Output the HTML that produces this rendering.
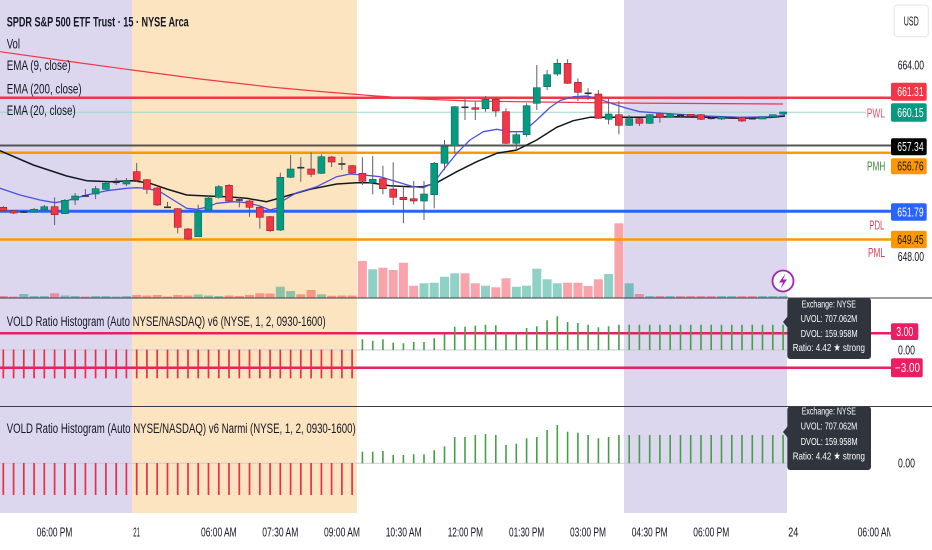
<!DOCTYPE html>
<html><head><meta charset="utf-8"><style>
html,body{margin:0;padding:0;background:#fff;width:932px;height:550px;overflow:hidden}
svg{display:block}
text{font-family:"Liberation Sans","DejaVu Sans",sans-serif;fill:#131722}
.w{stroke:#5d606b;stroke-width:1}
.g{fill:#089981;stroke:#0a6b5a;stroke-width:.6}
.r{fill:#f23645;stroke:#9a1f2a;stroke-width:.6}
.d{stroke:#2a2e39;stroke-width:1.6}
.vg{fill:#089981;fill-opacity:.45}
.vr{fill:#f23645;fill-opacity:.45}
.hr{stroke:#ea2e48;stroke-width:1.7}
.hg{stroke:#43a047;stroke-width:1.6}
.tt{fill:#fff;font-size:10.5px}
.ax{font-size:12.5px}
</style></head><body>
<svg width="932" height="550" viewBox="0 0 932 550" xmlns="http://www.w3.org/2000/svg">
<defs><clipPath id="xc"><rect x="0" y="513" width="890.5" height="37"/></clipPath></defs>
<rect x="0" y="0" width="132" height="513" fill="#dcd6ef"/>
<rect x="132" y="0" width="225" height="513" fill="#fde4c0"/>
<rect x="624" y="0" width="163" height="513" fill="#dcd6ef"/>

<line x1="0" x2="787" y1="350" y2="350" stroke="#c9cbd1" stroke-width="1"/>
<line x1="0" x2="787" y1="463.3" y2="463.3" stroke="#c9cbd1" stroke-width="1"/>

<g>
<rect class="vr" x="-1.2" y="296" width="9" height="1.5"/>
<rect class="vr" x="9.1" y="296.5" width="9" height="1"/>
<rect class="vg" x="19.3" y="294" width="9" height="3.5"/>
<rect class="vg" x="29.6" y="296" width="9" height="1.5"/>
<rect class="vg" x="39.8" y="296" width="9" height="1.5"/>
<rect class="vr" x="50.1" y="293.3" width="9" height="4.2"/>
<rect class="vg" x="60.4" y="295.5" width="9" height="2"/>
<rect class="vg" x="70.6" y="296" width="9" height="1.5"/>
<rect class="vr" x="80.9" y="296.5" width="9" height="1"/>
<rect class="vg" x="91.1" y="296" width="9" height="1.5"/>
<rect class="vg" x="101.4" y="296" width="9" height="1.5"/>
<rect class="vg" x="111.7" y="296.5" width="9" height="1"/>
<rect class="vg" x="121.9" y="296" width="9" height="1.5"/>
<rect class="vr" x="132.2" y="295" width="9" height="2.5"/>
<rect class="vr" x="142.4" y="295.5" width="9" height="2"/>
<rect class="vr" x="152.7" y="295" width="9" height="2.5"/>
<rect class="vr" x="163" y="296.5" width="9" height="1"/>
<rect class="vr" x="173.2" y="295" width="9" height="2.5"/>
<rect class="vr" x="183.5" y="295.5" width="9" height="2"/>
<rect class="vg" x="193.7" y="294.5" width="9" height="3"/>
<rect class="vg" x="204" y="295.5" width="9" height="2"/>
<rect class="vg" x="214.3" y="296" width="9" height="1.5"/>
<rect class="vr" x="224.5" y="295.5" width="9" height="2"/>
<rect class="vr" x="234.8" y="296" width="9" height="1.5"/>
<rect class="vr" x="245" y="295" width="9" height="2.5"/>
<rect class="vr" x="255.3" y="293.3" width="9" height="4.2"/>
<rect class="vr" x="265.6" y="293.5" width="9" height="4"/>
<rect class="vg" x="275.8" y="286.7" width="9" height="10.8"/>
<rect class="vg" x="286.1" y="291" width="9" height="6.5"/>
<rect class="vr" x="296.3" y="294.3" width="9" height="3.2"/>
<rect class="vr" x="306.6" y="290" width="9" height="7.5"/>
<rect class="vg" x="316.9" y="294.3" width="9" height="3.2"/>
<rect class="vr" x="327.1" y="295.7" width="9" height="1.8"/>
<rect class="vr" x="337.4" y="295.5" width="9" height="2"/>
<rect class="vr" x="347.6" y="295.5" width="9" height="2"/>
<rect class="vr" x="357.9" y="261" width="9" height="36.5"/>
<rect class="vg" x="368.2" y="269.3" width="9" height="28.2"/>
<rect class="vr" x="378.4" y="267.7" width="9" height="29.8"/>
<rect class="vr" x="388.7" y="270" width="9" height="27.5"/>
<rect class="vr" x="398.9" y="262.7" width="9" height="34.8"/>
<rect class="vr" x="409.2" y="285.7" width="9" height="11.8"/>
<rect class="vg" x="419.5" y="283.3" width="9" height="14.2"/>
<rect class="vg" x="429.7" y="282.7" width="9" height="14.8"/>
<rect class="vg" x="440" y="276.7" width="9" height="20.8"/>
<rect class="vg" x="450.2" y="273.3" width="9" height="24.2"/>
<rect class="vr" x="460.5" y="273.3" width="9" height="24.2"/>
<rect class="vr" x="470.8" y="283.3" width="9" height="14.2"/>
<rect class="vg" x="481" y="285.7" width="9" height="11.8"/>
<rect class="vr" x="491.3" y="287.3" width="9" height="10.2"/>
<rect class="vr" x="501.5" y="278.3" width="9" height="19.2"/>
<rect class="vg" x="511.8" y="286.7" width="9" height="10.8"/>
<rect class="vg" x="522.1" y="285.7" width="9" height="11.8"/>
<rect class="vg" x="532.3" y="268.7" width="9" height="28.8"/>
<rect class="vg" x="542.6" y="279.3" width="9" height="18.2"/>
<rect class="vg" x="552.8" y="283.3" width="9" height="14.2"/>
<rect class="vr" x="563.1" y="282.7" width="9" height="14.8"/>
<rect class="vr" x="573.4" y="282.7" width="9" height="14.8"/>
<rect class="vr" x="583.6" y="286" width="9" height="11.5"/>
<rect class="vr" x="593.9" y="279.3" width="9" height="18.2"/>
<rect class="vg" x="604.1" y="274" width="9" height="23.5"/>
<rect class="vr" x="614.4" y="223.3" width="9" height="74.2"/>
<rect class="vg" x="624.7" y="283.3" width="9" height="14.2"/>
<rect class="vr" x="634.9" y="294" width="9" height="3.5"/>
<rect class="vg" x="645.2" y="296" width="9" height="1.5"/>
<rect class="vr" x="655.4" y="296" width="9" height="1.5"/>
<rect class="vg" x="665.7" y="296" width="9" height="1.5"/>
<rect class="vr" x="676" y="296" width="9" height="1.5"/>
<rect class="vr" x="686.2" y="296" width="9" height="1.5"/>
<rect class="vr" x="696.5" y="296" width="9" height="1.5"/>
<rect class="vr" x="706.7" y="296" width="9" height="1.5"/>
<rect class="vg" x="717" y="296" width="9" height="1.5"/>
<rect class="vg" x="727.3" y="296" width="9" height="1.5"/>
<rect class="vr" x="737.5" y="296" width="9" height="1.5"/>
<rect class="vr" x="747.8" y="296" width="9" height="1.5"/>
<rect class="vg" x="758" y="296" width="9" height="1.5"/>
<rect class="vg" x="768.3" y="296" width="9" height="1.5"/>
<rect class="vg" x="778.6" y="296" width="9" height="1.5"/>
</g>

<line x1="0" x2="866" y1="112.3" y2="112.3" stroke="#9fd6cb" stroke-width="1"/>
<line x1="0" x2="891" y1="145.5" y2="145.5" stroke="#555" stroke-width="2"/>
<line x1="0" x2="891" y1="152.8" y2="152.8" stroke="#ff9800" stroke-width="2.5"/>
<line x1="0" x2="891" y1="211.3" y2="211.3" stroke="#2962ff" stroke-width="3"/>
<line x1="0" x2="891" y1="239.5" y2="239.5" stroke="#ff9800" stroke-width="2.5"/>
<line x1="0" x2="891" y1="97.7" y2="97.7" stroke="#f23645" stroke-width="2.5"/>

<polyline fill="none" stroke="#f23645" stroke-width="1.2" points="0,51.7 66,61 132,70 200,79 270,87 320,91.5 370,95.5 420,99 470,101 540,102 620,103 700,103.5 783,104"/>
<polyline fill="none" stroke="#131722" stroke-width="1.5" stroke-linejoin="round" points="0,150.7 33.3,165 66.7,176 86.7,180.7 110,181.7 133.3,180.7 150,183.3 166.7,189 186.7,195 206.7,196 226.7,196.7 246.7,198.3 266.7,201.7 276,199 290,195 310,189.3 336.7,184 356.7,182.7 370,182.7 390,185.7 410,186.7 423.3,186.7 436.7,182.7 456.7,171.7 476.7,161.7 496.7,153.3 516.7,150 536.7,140 556.7,127.3 573.3,120.7 590,117.3 606.7,117.3 640,117.3 673.3,116.7 706.7,117.3 740,118.3 773.3,117.3 785,116"/>
<polyline fill="none" stroke="#5050e0" stroke-width="1.3" stroke-linejoin="round" points="0,188.3 20,195 40,200 55,202.7 66.7,200.7 86.7,195 106.7,190.7 126.7,188.3 136.7,187.7 146.7,188.3 160,191.7 173.3,200 186.7,208.3 196.7,209.3 206.7,207.3 216.7,203.3 233.3,201.7 246.7,202.7 260,206 270,210 276.7,208.3 283.3,200.5 296.7,192.7 316.7,186.7 336.7,176.7 350,174 363.3,175 380,176.7 396.7,181.7 413.3,186.7 423.3,187.7 433.3,183.3 443.3,170 456.7,153.3 470,140 483.3,131.7 496.7,129.3 510,131.7 523.3,131.7 536.7,120 550,107.5 560,100.5 573.3,96.7 586.7,96 596.7,98.3 613.3,104 626.7,108.3 640,111.7 673.3,114 706.7,116 740,117.3 773.3,116.7 785,115"/>

<g>
<line class="w" x1="3.3" x2="3.3" y1="206" y2="212"/><rect class="r" x="-0.2" y="207.3" width="7" height="3.4"/>
<line class="w" x1="13.6" x2="13.6" y1="210" y2="214"/><rect class="r" x="10.1" y="210.7" width="7" height="2.3"/>
<line class="w" x1="23.8" x2="23.8" y1="211" y2="213"/><line class="d" x1="20.3" x2="27.3" y1="212" y2="212"/>
<line class="w" x1="34.1" x2="34.1" y1="208" y2="213"/><rect class="g" x="30.6" y="209.3" width="7" height="2.7"/>
<line class="w" x1="44.3" x2="44.3" y1="205" y2="211"/><rect class="g" x="40.8" y="206.7" width="7" height="3.3"/>
<line class="w" x1="54.6" x2="54.6" y1="197.3" y2="225"/><rect class="r" x="51.1" y="206.7" width="7" height="8"/>
<line class="w" x1="64.9" x2="64.9" y1="199" y2="214"/><rect class="g" x="61.4" y="200.3" width="7" height="13.4"/>
<line class="w" x1="75.1" x2="75.1" y1="193" y2="205"/><rect class="g" x="71.6" y="196" width="7" height="4"/>
<line class="w" x1="85.4" x2="85.4" y1="189" y2="197"/><line class="d" x1="81.9" x2="88.9" y1="196" y2="196"/>
<line class="w" x1="95.6" x2="95.6" y1="186" y2="199"/><rect class="g" x="92.1" y="188.7" width="7" height="5.3"/>
<line class="w" x1="105.9" x2="105.9" y1="182" y2="190"/><rect class="g" x="102.4" y="183.3" width="7" height="6"/>
<line class="w" x1="116.2" x2="116.2" y1="178" y2="185"/><line class="d" x1="112.7" x2="119.7" y1="182.3" y2="182.3"/>
<line class="w" x1="126.4" x2="126.4" y1="178" y2="186"/><rect class="g" x="122.9" y="181" width="7" height="3"/>
<line class="w" x1="136.7" x2="136.7" y1="163" y2="182"/><rect class="r" x="133.2" y="171.7" width="7" height="8.6"/>
<line class="w" x1="146.9" x2="146.9" y1="179" y2="194"/><rect class="r" x="143.4" y="179.7" width="7" height="9.6"/>
<line class="w" x1="157.2" x2="157.2" y1="187" y2="206"/><rect class="r" x="153.7" y="188" width="7" height="17"/>
<line class="w" x1="167.5" x2="167.5" y1="202" y2="208"/><line class="d" x1="164" x2="171" y1="207.3" y2="207.3"/>
<line class="w" x1="177.7" x2="177.7" y1="208" y2="233.3"/><rect class="r" x="174.2" y="208.7" width="7" height="18.6"/>
<line class="w" x1="188" x2="188" y1="228" y2="240"/><rect class="r" x="184.5" y="229" width="7" height="10"/>
<line class="w" x1="198.2" x2="198.2" y1="204.7" y2="237"/><rect class="g" x="194.7" y="212" width="7" height="24.7"/>
<line class="w" x1="208.5" x2="208.5" y1="195" y2="212"/><rect class="g" x="205" y="198" width="7" height="12"/>
<line class="w" x1="218.8" x2="218.8" y1="185" y2="198.7"/><rect class="g" x="215.3" y="186.7" width="7" height="10.6"/>
<line class="w" x1="229" x2="229" y1="184" y2="202"/><rect class="r" x="225.5" y="185.3" width="7" height="15.7"/>
<line class="w" x1="239.3" x2="239.3" y1="196.7" y2="207.3"/><line class="d" x1="235.8" x2="242.8" y1="200" y2="200"/>
<line class="w" x1="249.5" x2="249.5" y1="200" y2="216.7"/><rect class="r" x="246" y="201" width="7" height="6.3"/>
<line class="w" x1="259.8" x2="259.8" y1="206" y2="228.7"/><rect class="r" x="256.3" y="207.3" width="7" height="10"/>
<line class="w" x1="270.1" x2="270.1" y1="216" y2="232"/><rect class="r" x="266.6" y="216.7" width="7" height="14"/>
<line class="w" x1="280.3" x2="280.3" y1="172.7" y2="231"/><rect class="g" x="276.8" y="177.3" width="7" height="52.7"/>
<line class="w" x1="290.6" x2="290.6" y1="155" y2="178"/><rect class="g" x="287.1" y="169" width="7" height="8.3"/>
<line class="w" x1="300.8" x2="300.8" y1="157.3" y2="181.7"/><line class="d" x1="297.3" x2="304.3" y1="167.7" y2="167.7"/>
<line class="w" x1="311.1" x2="311.1" y1="152.3" y2="177"/><rect class="r" x="307.6" y="169" width="7" height="5.3"/>
<line class="w" x1="321.4" x2="321.4" y1="154.3" y2="174"/><rect class="g" x="317.9" y="156.7" width="7" height="16.6"/>
<line class="w" x1="331.6" x2="331.6" y1="156" y2="167"/><rect class="r" x="328.1" y="157" width="7" height="5"/>
<line class="w" x1="341.9" x2="341.9" y1="157" y2="170"/><line class="d" x1="338.4" x2="345.4" y1="164" y2="164"/>
<line class="w" x1="352.1" x2="352.1" y1="165" y2="174"/><rect class="r" x="348.6" y="165.7" width="7" height="7.3"/>
<line class="w" x1="362.4" x2="362.4" y1="157.3" y2="185"/><rect class="r" x="358.9" y="173.3" width="7" height="8"/>
<line class="w" x1="372.7" x2="372.7" y1="156" y2="194.3"/><rect class="g" x="369.2" y="179.3" width="7" height="3.4"/>
<line class="w" x1="382.9" x2="382.9" y1="165.7" y2="194.3"/><rect class="r" x="379.4" y="178.7" width="7" height="10"/>
<line class="w" x1="393.2" x2="393.2" y1="162.3" y2="205"/><rect class="r" x="389.7" y="189" width="7" height="8.3"/>
<line class="w" x1="403.4" x2="403.4" y1="186.7" y2="223.3"/><rect class="r" x="399.9" y="197.3" width="7" height="2.4"/>
<line class="w" x1="413.7" x2="413.7" y1="181" y2="204.3"/><rect class="r" x="410.2" y="198.7" width="7" height="2.3"/>
<line class="w" x1="424" x2="424" y1="181" y2="220"/><rect class="g" x="420.5" y="194" width="7" height="7"/>
<line class="w" x1="434.2" x2="434.2" y1="162" y2="208.3"/><rect class="g" x="430.7" y="163.3" width="7" height="31.4"/>
<line class="w" x1="444.5" x2="444.5" y1="140" y2="170"/><rect class="g" x="441" y="146.7" width="7" height="16.6"/>
<line class="w" x1="454.7" x2="454.7" y1="106" y2="153.3"/><rect class="g" x="451.2" y="106.7" width="7" height="39.3"/>
<line class="w" x1="465" x2="465" y1="98.7" y2="120"/><line class="d" x1="461.5" x2="468.5" y1="107.3" y2="107.3"/>
<line class="w" x1="475.3" x2="475.3" y1="101.7" y2="120"/><rect class="r" x="471.8" y="107.7" width="7" height="1.6"/>
<line class="w" x1="485.5" x2="485.5" y1="96" y2="111.7"/><rect class="g" x="482" y="99.3" width="7" height="9.4"/>
<line class="w" x1="495.8" x2="495.8" y1="96.7" y2="116.7"/><rect class="r" x="492.3" y="99.3" width="7" height="11.7"/>
<line class="w" x1="506" x2="506" y1="108.3" y2="144"/><rect class="r" x="502.5" y="111.7" width="7" height="31.6"/>
<line class="w" x1="516.3" x2="516.3" y1="132.7" y2="150"/><rect class="g" x="512.8" y="134.7" width="7" height="8.6"/>
<line class="w" x1="526.6" x2="526.6" y1="103.3" y2="136.7"/><rect class="g" x="523.1" y="105.7" width="7" height="29"/>
<line class="w" x1="536.8" x2="536.8" y1="65" y2="110"/><rect class="g" x="533.3" y="87.7" width="7" height="15.6"/>
<line class="w" x1="547.1" x2="547.1" y1="70" y2="90"/><rect class="g" x="543.6" y="74.7" width="7" height="12"/>
<line class="w" x1="557.3" x2="557.3" y1="59" y2="76"/><rect class="g" x="553.8" y="63.3" width="7" height="10.7"/>
<line class="w" x1="567.6" x2="567.6" y1="59.3" y2="84"/><rect class="r" x="564.1" y="63.3" width="7" height="20"/>
<line class="w" x1="577.9" x2="577.9" y1="78.3" y2="101"/><rect class="r" x="574.4" y="82.3" width="7" height="10"/>
<line class="w" x1="588.1" x2="588.1" y1="88.3" y2="100"/><line class="d" x1="584.6" x2="591.6" y1="93.3" y2="93.3"/>
<line class="w" x1="598.4" x2="598.4" y1="90" y2="119"/><rect class="r" x="594.9" y="94" width="7" height="24.3"/>
<line class="w" x1="608.6" x2="608.6" y1="98.3" y2="124.3"/><rect class="g" x="605.1" y="114" width="7" height="5.3"/>
<line class="w" x1="618.9" x2="618.9" y1="101" y2="134.3"/><rect class="r" x="615.4" y="114.7" width="7" height="10.6"/>
<line class="w" x1="629.2" x2="629.2" y1="115" y2="126"/><rect class="g" x="625.7" y="118.7" width="7" height="6.6"/>
<line class="w" x1="639.4" x2="639.4" y1="118" y2="126"/><rect class="r" x="635.9" y="118.7" width="7" height="4.6"/>
<line class="w" x1="649.7" x2="649.7" y1="114" y2="124"/><rect class="g" x="646.2" y="114.7" width="7" height="8.6"/>
<line class="w" x1="659.9" x2="659.9" y1="113" y2="122.7"/><rect class="r" x="656.4" y="114" width="7" height="3"/>
<line class="w" x1="670.2" x2="670.2" y1="113" y2="118"/><rect class="g" x="666.7" y="114" width="7" height="3"/>
<line class="w" x1="680.5" x2="680.5" y1="114" y2="117"/><line class="d" x1="677" x2="684" y1="115.3" y2="115.3"/>
<line class="w" x1="690.7" x2="690.7" y1="114" y2="117"/><rect class="r" x="687.2" y="114.3" width="7" height="2"/>
<line class="w" x1="701" x2="701" y1="114" y2="120"/><rect class="r" x="697.5" y="114.7" width="7" height="4.6"/>
<line class="w" x1="711.2" x2="711.2" y1="117" y2="119.5"/><line class="d" x1="707.7" x2="714.7" y1="118.3" y2="118.3"/>
<line class="w" x1="721.5" x2="721.5" y1="116" y2="120"/><rect class="g" x="718" y="116.7" width="7" height="2.3"/>
<line class="d" x1="728.3" x2="735.3" y1="118" y2="118"/>
<line class="w" x1="742" x2="742" y1="117" y2="122"/><rect class="r" x="738.5" y="117.3" width="7" height="3.7"/>
<line class="d" x1="748.8" x2="755.8" y1="118.7" y2="118.7"/>
<rect class="g" x="759" y="116.7" width="7" height="2.3"/>
<rect class="g" x="769.3" y="114.7" width="7" height="2.3"/>
<rect class="g" x="779.6" y="112" width="7" height="2"/>
</g>

<text x="6.7" y="26.6" font-size="14" font-weight="bold" textLength="182" lengthAdjust="spacingAndGlyphs">SPDR S&amp;P 500 ETF Trust · 15 · NYSE Arca</text>
<text x="6.7" y="48.3" font-size="14" textLength="13.3" lengthAdjust="spacingAndGlyphs">Vol</text>
<text x="6.7" y="70" font-size="14" textLength="64" lengthAdjust="spacingAndGlyphs">EMA (9, close)</text>
<text x="6.7" y="93.3" font-size="14" textLength="75" lengthAdjust="spacingAndGlyphs">EMA (200, close)</text>
<text x="6.7" y="115" font-size="14" textLength="69" lengthAdjust="spacingAndGlyphs">EMA (20, close)</text>

<text x="866.7" y="117.5" font-size="12.5" style="fill:#e8556a" textLength="18.3" lengthAdjust="spacingAndGlyphs">PWL</text>
<text x="867" y="170.5" font-size="12.5" style="fill:#3d8b40" textLength="18.3" lengthAdjust="spacingAndGlyphs">PMH</text>
<text x="869.3" y="229.5" font-size="12.5" style="fill:#e8405a" textLength="15" lengthAdjust="spacingAndGlyphs">PDL</text>
<text x="868" y="257.2" font-size="12.5" style="fill:#e8405a" textLength="17" lengthAdjust="spacingAndGlyphs">PML</text>

<circle cx="783" cy="281" r="10.5" fill="#fff" stroke="#9c27b0" stroke-width="1.8"/>
<polygon points="785.5,273.5 779,282.5 783,282.5 780.5,289 787,279.5 783,279.5" fill="#9c27b0"/>

<rect x="894.3" y="5" width="34" height="31.7" rx="3" fill="#fff" stroke="#e3e5ea"/>
<text x="903.8" y="25.5" font-size="12.5" textLength="15" lengthAdjust="spacingAndGlyphs">USD</text>
<text class="ax" x="897.7" y="69.4" textLength="26.3" lengthAdjust="spacingAndGlyphs">664.00</text>
<rect x="891" y="82.7" width="35.7" height="18" rx="2" fill="#f23645"/>
<text class="ax" x="897.3" y="96.1" style="fill:#fff" textLength="26.3" lengthAdjust="spacingAndGlyphs">661.31</text>
<rect x="891" y="103.3" width="35.7" height="18.4" rx="2" fill="#089981"/>
<text class="ax" x="897.3" y="116.9" style="fill:#fff" textLength="26.3" lengthAdjust="spacingAndGlyphs">660.15</text>
<rect x="891" y="138.3" width="35.7" height="17" rx="2" fill="#000"/>
<text class="ax" x="897.3" y="151.2" style="fill:#fff" textLength="26.3" lengthAdjust="spacingAndGlyphs">657.34</text>
<rect x="891" y="158.3" width="35.7" height="16" rx="2" fill="#ff9800"/>
<text class="ax" x="897.3" y="170.5" textLength="26.3" lengthAdjust="spacingAndGlyphs">656.76</text>
<rect x="891" y="203.3" width="35.7" height="17.4" rx="2" fill="#2962ff"/>
<text class="ax" x="897.3" y="216.4" style="fill:#fff" textLength="26.3" lengthAdjust="spacingAndGlyphs">651.79</text>
<rect x="891" y="230.7" width="35.7" height="17.6" rx="2" fill="#ff9800"/>
<text class="ax" x="897.3" y="243.9" textLength="26.3" lengthAdjust="spacingAndGlyphs">649.45</text>
<text class="ax" x="897.7" y="261.1" textLength="26.3" lengthAdjust="spacingAndGlyphs">648.00</text>

<line x1="0" x2="891" y1="333.3" y2="333.3" stroke="#e91e63" stroke-width="2.5"/>
<line x1="0" x2="891" y1="367.7" y2="367.7" stroke="#e91e63" stroke-width="2.5"/>
<g class="hr">
<line x1="3.3" x2="3.3" y1="349.5" y2="378.3"/><line x1="13.6" x2="13.6" y1="349.5" y2="378.3"/><line x1="23.8" x2="23.8" y1="349.5" y2="378.3"/><line x1="34.1" x2="34.1" y1="349.5" y2="378.3"/><line x1="44.3" x2="44.3" y1="349.5" y2="378.3"/><line x1="54.6" x2="54.6" y1="349.5" y2="378.3"/><line x1="64.9" x2="64.9" y1="349.5" y2="378.3"/><line x1="75.1" x2="75.1" y1="349.5" y2="378.3"/><line x1="85.4" x2="85.4" y1="349.5" y2="378.3"/><line x1="95.6" x2="95.6" y1="349.5" y2="378.3"/><line x1="105.9" x2="105.9" y1="349.5" y2="378.3"/><line x1="116.2" x2="116.2" y1="349.5" y2="378.3"/><line x1="126.4" x2="126.4" y1="349.5" y2="378.3"/><line x1="136.7" x2="136.7" y1="349.5" y2="378.3"/><line x1="146.9" x2="146.9" y1="349.5" y2="378.3"/><line x1="157.2" x2="157.2" y1="349.5" y2="378.3"/><line x1="167.5" x2="167.5" y1="349.5" y2="378.3"/><line x1="177.7" x2="177.7" y1="349.5" y2="378.3"/><line x1="188" x2="188" y1="349.5" y2="378.3"/><line x1="198.2" x2="198.2" y1="349.5" y2="378.3"/><line x1="208.5" x2="208.5" y1="349.5" y2="378.3"/><line x1="218.8" x2="218.8" y1="349.5" y2="378.3"/><line x1="229" x2="229" y1="349.5" y2="378.3"/><line x1="239.3" x2="239.3" y1="349.5" y2="378.3"/><line x1="249.5" x2="249.5" y1="349.5" y2="378.3"/><line x1="259.8" x2="259.8" y1="349.5" y2="378.3"/><line x1="270.1" x2="270.1" y1="349.5" y2="378.3"/><line x1="280.3" x2="280.3" y1="349.5" y2="378.3"/><line x1="290.6" x2="290.6" y1="349.5" y2="378.3"/><line x1="300.8" x2="300.8" y1="349.5" y2="378.3"/><line x1="311.1" x2="311.1" y1="349.5" y2="378.3"/><line x1="321.4" x2="321.4" y1="349.5" y2="378.3"/><line x1="331.6" x2="331.6" y1="349.5" y2="378.3"/><line x1="341.9" x2="341.9" y1="349.5" y2="378.3"/><line x1="352.1" x2="352.1" y1="349.5" y2="378.3"/>
</g>
<g class="hg">
<line x1="362.4" x2="362.4" y1="350" y2="339.3"/><line x1="372.7" x2="372.7" y1="350" y2="340.7"/><line x1="382.9" x2="382.9" y1="350" y2="339.3"/><line x1="393.2" x2="393.2" y1="350" y2="342.7"/><line x1="403.4" x2="403.4" y1="350" y2="343.3"/><line x1="413.7" x2="413.7" y1="350" y2="342"/><line x1="424" x2="424" y1="350" y2="342"/><line x1="434.2" x2="434.2" y1="350" y2="338.3"/><line x1="444.5" x2="444.5" y1="350" y2="334.3"/><line x1="454.7" x2="454.7" y1="350" y2="326.7"/><line x1="465" x2="465" y1="350" y2="326.7"/><line x1="475.3" x2="475.3" y1="350" y2="325.7"/><line x1="485.5" x2="485.5" y1="350" y2="324.7"/><line x1="495.8" x2="495.8" y1="350" y2="325.3"/><line x1="506" x2="506" y1="350" y2="333.3"/><line x1="516.3" x2="516.3" y1="350" y2="332.3"/><line x1="526.6" x2="526.6" y1="350" y2="328"/><line x1="536.8" x2="536.8" y1="350" y2="326.3"/><line x1="547.1" x2="547.1" y1="350" y2="320.3"/><line x1="557.3" x2="557.3" y1="350" y2="316.3"/><line x1="567.6" x2="567.6" y1="350" y2="322"/><line x1="577.9" x2="577.9" y1="350" y2="323"/><line x1="588.1" x2="588.1" y1="350" y2="324.7"/><line x1="598.4" x2="598.4" y1="350" y2="327.3"/><line x1="608.6" x2="608.6" y1="350" y2="326.3"/><line x1="618.9" x2="618.9" y1="350" y2="324.7"/><line x1="629.2" x2="629.2" y1="350" y2="324.7"/><line x1="639.4" x2="639.4" y1="350" y2="324.7"/><line x1="649.7" x2="649.7" y1="350" y2="324.7"/><line x1="659.9" x2="659.9" y1="350" y2="324.7"/><line x1="670.2" x2="670.2" y1="350" y2="324.7"/><line x1="680.5" x2="680.5" y1="350" y2="324.7"/><line x1="690.7" x2="690.7" y1="350" y2="324.7"/><line x1="701" x2="701" y1="350" y2="324.7"/><line x1="711.2" x2="711.2" y1="350" y2="324.7"/><line x1="721.5" x2="721.5" y1="350" y2="324.7"/><line x1="731.8" x2="731.8" y1="350" y2="324.7"/><line x1="742" x2="742" y1="350" y2="324.7"/><line x1="752.3" x2="752.3" y1="350" y2="324.7"/><line x1="762.5" x2="762.5" y1="350" y2="324.7"/><line x1="772.8" x2="772.8" y1="350" y2="324.7"/><line x1="783.1" x2="783.1" y1="350" y2="324.7"/>
</g>
<text x="6.7" y="325.8" font-size="13.5" textLength="319" lengthAdjust="spacingAndGlyphs">VOLD Ratio Histogram (Auto NYSE/NASDAQ) v6 (NYSE, 1, 2, 0930-1600)</text>
<rect x="891" y="323.3" width="27.3" height="16.7" rx="2" fill="#e91e63"/>
<text class="ax" x="896.3" y="336.1" style="fill:#fff" textLength="17" lengthAdjust="spacingAndGlyphs">3.00</text>
<text class="ax" x="898" y="354.4" textLength="17" lengthAdjust="spacingAndGlyphs">0.00</text>
<rect x="891" y="358.3" width="31.7" height="19" rx="2" fill="#e91e63"/>
<text class="ax" x="895" y="372.2" style="fill:#fff" textLength="25" lengthAdjust="spacingAndGlyphs">−3.00</text>

<g class="hr">
<line x1="3.3" x2="3.3" y1="463" y2="495"/><line x1="13.6" x2="13.6" y1="463" y2="495"/><line x1="23.8" x2="23.8" y1="463" y2="495"/><line x1="34.1" x2="34.1" y1="463" y2="495"/><line x1="44.3" x2="44.3" y1="463" y2="495"/><line x1="54.6" x2="54.6" y1="463" y2="495"/><line x1="64.9" x2="64.9" y1="463" y2="495"/><line x1="75.1" x2="75.1" y1="463" y2="495"/><line x1="85.4" x2="85.4" y1="463" y2="495"/><line x1="95.6" x2="95.6" y1="463" y2="495"/><line x1="105.9" x2="105.9" y1="463" y2="495"/><line x1="116.2" x2="116.2" y1="463" y2="495"/><line x1="126.4" x2="126.4" y1="463" y2="495"/><line x1="136.7" x2="136.7" y1="463" y2="495"/><line x1="146.9" x2="146.9" y1="463" y2="495"/><line x1="157.2" x2="157.2" y1="463" y2="495"/><line x1="167.5" x2="167.5" y1="463" y2="495"/><line x1="177.7" x2="177.7" y1="463" y2="495"/><line x1="188" x2="188" y1="463" y2="495"/><line x1="198.2" x2="198.2" y1="463" y2="495"/><line x1="208.5" x2="208.5" y1="463" y2="495"/><line x1="218.8" x2="218.8" y1="463" y2="495"/><line x1="229" x2="229" y1="463" y2="495"/><line x1="239.3" x2="239.3" y1="463" y2="495"/><line x1="249.5" x2="249.5" y1="463" y2="495"/><line x1="259.8" x2="259.8" y1="463" y2="495"/><line x1="270.1" x2="270.1" y1="463" y2="495"/><line x1="280.3" x2="280.3" y1="463" y2="495"/><line x1="290.6" x2="290.6" y1="463" y2="495"/><line x1="300.8" x2="300.8" y1="463" y2="495"/><line x1="311.1" x2="311.1" y1="463" y2="495"/><line x1="321.4" x2="321.4" y1="463" y2="495"/><line x1="331.6" x2="331.6" y1="463" y2="495"/><line x1="341.9" x2="341.9" y1="463" y2="495"/><line x1="352.1" x2="352.1" y1="463" y2="495"/>
</g>
<g class="hg">
<line x1="362.4" x2="362.4" y1="463.3" y2="451.7"/><line x1="372.7" x2="372.7" y1="463.3" y2="451.7"/><line x1="382.9" x2="382.9" y1="463.3" y2="451"/><line x1="393.2" x2="393.2" y1="463.3" y2="455"/><line x1="403.4" x2="403.4" y1="463.3" y2="455"/><line x1="413.7" x2="413.7" y1="463.3" y2="454.3"/><line x1="424" x2="424" y1="463.3" y2="454.3"/><line x1="434.2" x2="434.2" y1="463.3" y2="450.3"/><line x1="444.5" x2="444.5" y1="463.3" y2="446.3"/><line x1="454.7" x2="454.7" y1="463.3" y2="437"/><line x1="465" x2="465" y1="463.3" y2="437"/><line x1="475.3" x2="475.3" y1="463.3" y2="435"/><line x1="485.5" x2="485.5" y1="463.3" y2="434"/><line x1="495.8" x2="495.8" y1="463.3" y2="435"/><line x1="506" x2="506" y1="463.3" y2="445"/><line x1="516.3" x2="516.3" y1="463.3" y2="443.7"/><line x1="526.6" x2="526.6" y1="463.3" y2="438.3"/><line x1="536.8" x2="536.8" y1="463.3" y2="437"/><line x1="547.1" x2="547.1" y1="463.3" y2="430"/><line x1="557.3" x2="557.3" y1="463.3" y2="425"/><line x1="567.6" x2="567.6" y1="463.3" y2="431.7"/><line x1="577.9" x2="577.9" y1="463.3" y2="432.7"/><line x1="588.1" x2="588.1" y1="463.3" y2="435"/><line x1="598.4" x2="598.4" y1="463.3" y2="438.3"/><line x1="608.6" x2="608.6" y1="463.3" y2="437"/><line x1="618.9" x2="618.9" y1="463.3" y2="435"/><line x1="629.2" x2="629.2" y1="463.3" y2="435"/><line x1="639.4" x2="639.4" y1="463.3" y2="435"/><line x1="649.7" x2="649.7" y1="463.3" y2="435"/><line x1="659.9" x2="659.9" y1="463.3" y2="435"/><line x1="670.2" x2="670.2" y1="463.3" y2="435"/><line x1="680.5" x2="680.5" y1="463.3" y2="435"/><line x1="690.7" x2="690.7" y1="463.3" y2="435"/><line x1="701" x2="701" y1="463.3" y2="435"/><line x1="711.2" x2="711.2" y1="463.3" y2="435"/><line x1="721.5" x2="721.5" y1="463.3" y2="435"/><line x1="731.8" x2="731.8" y1="463.3" y2="435"/><line x1="742" x2="742" y1="463.3" y2="435"/><line x1="752.3" x2="752.3" y1="463.3" y2="435"/><line x1="762.5" x2="762.5" y1="463.3" y2="435"/><line x1="772.8" x2="772.8" y1="463.3" y2="435"/><line x1="783.1" x2="783.1" y1="463.3" y2="435"/>
</g>
<text x="6.7" y="433.1" font-size="13.5" textLength="349" lengthAdjust="spacingAndGlyphs">VOLD Ratio Histogram (Auto NYSE/NASDAQ) v6 Narmi (NYSE, 1, 2, 0930-1600)</text>
<text class="ax" x="898" y="467.7" textLength="17" lengthAdjust="spacingAndGlyphs">0.00</text>

<rect x="787.3" y="298" width="83.7" height="61" rx="3" fill="#30343d"/>
<polygon points="787.5,316.5 783,322 787.5,327.5" fill="#30343d"/>
<text class="tt" x="801.7" y="307.7" textLength="54.3" lengthAdjust="spacingAndGlyphs">Exchange: NYSE</text>
<text class="tt" x="800.7" y="322" textLength="56.6" lengthAdjust="spacingAndGlyphs">UVOL: 707.062M</text>
<text class="tt" x="800.7" y="336.8" textLength="57" lengthAdjust="spacingAndGlyphs">DVOL: 159.958M</text>
<text class="tt" x="792.7" y="351.1" textLength="72.3" lengthAdjust="spacingAndGlyphs">Ratio: 4.42 ★ strong</text>

<rect x="787.3" y="406.5" width="83.7" height="63.5" rx="3" fill="#30343d"/>
<polygon points="787.5,426.5 783,432 787.5,437.5" fill="#30343d"/>
<text class="tt" x="801.7" y="414.4" textLength="54.3" lengthAdjust="spacingAndGlyphs">Exchange: NYSE</text>
<text class="tt" x="800.7" y="429.7" textLength="56.6" lengthAdjust="spacingAndGlyphs">UVOL: 707.062M</text>
<text class="tt" x="800.7" y="445" textLength="57" lengthAdjust="spacingAndGlyphs">DVOL: 159.958M</text>
<text class="tt" x="792.7" y="459.7" textLength="72.3" lengthAdjust="spacingAndGlyphs">Ratio: 4.42 ★ strong</text>

<line x1="0" x2="932" y1="298" y2="298" stroke="#3a3d45" stroke-width="1"/>
<line x1="0" x2="932" y1="406.5" y2="406.5" stroke="#3a3d45" stroke-width="1"/>

<g>
<text class="ax" x="36.7" y="536.5" textLength="35.6" lengthAdjust="spacingAndGlyphs">06:00 PM</text>
<text class="ax" x="133.3" y="536.5" textLength="6.7" lengthAdjust="spacingAndGlyphs">21</text>
<text class="ax" x="201" y="536.5" textLength="35.7" lengthAdjust="spacingAndGlyphs">06:00 AM</text>
<text class="ax" x="262.3" y="536.5" textLength="36" lengthAdjust="spacingAndGlyphs">07:30 AM</text>
<text class="ax" x="324" y="536.5" textLength="36" lengthAdjust="spacingAndGlyphs">09:00 AM</text>
<text class="ax" x="385.7" y="536.5" textLength="36" lengthAdjust="spacingAndGlyphs">10:30 AM</text>
<text class="ax" x="447.7" y="536.5" textLength="35.3" lengthAdjust="spacingAndGlyphs">12:00 PM</text>
<text class="ax" x="509" y="536.5" textLength="35.3" lengthAdjust="spacingAndGlyphs">01:30 PM</text>
<text class="ax" x="570" y="536.5" textLength="36" lengthAdjust="spacingAndGlyphs">03:00 PM</text>
<text class="ax" x="631.7" y="536.5" textLength="36" lengthAdjust="spacingAndGlyphs">04:30 PM</text>
<text class="ax" x="693.3" y="536.5" textLength="36" lengthAdjust="spacingAndGlyphs">06:00 PM</text>
<text class="ax" x="788.3" y="536.5" textLength="10" lengthAdjust="spacingAndGlyphs">24</text>
<text class="ax" x="857.7" y="536.5" textLength="36" lengthAdjust="spacingAndGlyphs" clip-path="url(#xc)">06:00 AM</text>
</g>
</svg>
</body></html>
